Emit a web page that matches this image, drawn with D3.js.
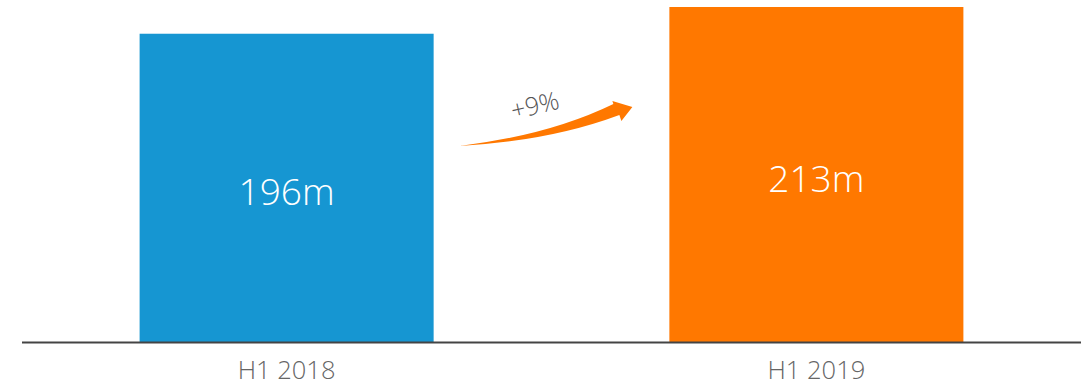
<!DOCTYPE html>
<html>
<head>
<meta charset="utf-8">
<script src="https://cdn.jsdelivr.net/npm/d3@7"></script>
<style>
  html, body { margin: 0; padding: 0; background: #fff; }
  svg text { font-family: "Open Sans", sans-serif; }
</style>
</head>
<body>
<div id="chart"></div>
<script>
// Chart data
const periods = ['H1 2018', 'H1 2019'];
const values = [196, 213];
const valueLabels = ['196m', '213m'];
const barColors = ['#1696d2', '#ff7800'];
const changeLabel = '+9%';

const width = 1082;
const height = 387;
const baseY = 342;

const svg = d3.select('#chart')
    .append('svg')
    .attr('width', width)
    .attr('height', height);

const x = d3.scaleBand()
    .domain(periods)
    .range([22, 1081])
    .paddingInner(0.445)
    .paddingOuter(0.222);

const y = d3.scaleLinear()
    .domain([0, d3.max(values)])
    .range([baseY, 7]);

const data = periods.map((p, i) => ({ period: p, value: values[i], label: valueLabels[i], color: barColors[i] }));

// Bars
svg.append('g')
    .selectAll('rect')
    .data(data)
    .enter()
    .append('rect')
    .attr('x', d => x(d.period))
    .attr('y', d => y(d.value))
    .attr('width', x.bandwidth())
    .attr('height', d => baseY - y(d.value))
    .attr('fill', d => d.color);

// Value labels inside bars
svg.append('g')
    .selectAll('text')
    .data(data)
    .enter()
    .append('text')
    .attr('x', d => x(d.period) + x.bandwidth() / 2)
    .attr('y', d => (y(d.value) + baseY) / 2 + 17)
    .attr('text-anchor', 'middle')
    .attr('fill', '#fff')
    .attr('font-size', 37)
    .attr('font-weight', 300)
    .text(d => d.label);

// Baseline
svg.append('line')
    .attr('x1', 22)
    .attr('x2', 1081)
    .attr('y1', baseY + 0.5)
    .attr('y2', baseY + 0.5)
    .attr('stroke', '#444')
    .attr('stroke-width', 2);

// Category labels
svg.append('g')
    .selectAll('text')
    .data(data)
    .enter()
    .append('text')
    .attr('x', d => x(d.period) + x.bandwidth() / 2)
    .attr('y', 379)
    .attr('text-anchor', 'middle')
    .attr('fill', '#666')
    .attr('font-size', 25.5)
    .attr('font-weight', 300)
    .text(d => d.period);

// Growth arrow between the bars
const ax0 = x(periods[0]) + x.bandwidth() + 26;
const ax1 = x(periods[1]) - 37;
const arrow = d3.path();
arrow.moveTo(ax0, 146);
arrow.quadraticCurveTo(ax0 + 90, 135, ax1 - 19, 104);
arrow.lineTo(ax1 - 20, 101);
arrow.lineTo(ax1, 107);
arrow.lineTo(ax1 - 11, 121);
arrow.lineTo(ax1 - 13, 115);
arrow.quadraticCurveTo(ax0 + 90, 141, ax0, 146);
arrow.closePath();

svg.append('path')
    .attr('d', arrow.toString())
    .attr('fill', '#ff7800');

svg.append('text')
    .attr('transform', `translate(${(ax0 + ax1) / 2 - 9},114) rotate(-13)`)
    .attr('text-anchor', 'middle')
    .attr('fill', '#555')
    .attr('font-size', 25)
    .attr('font-weight', 300)
    .text(changeLabel);
</script>
</body>
</html>
